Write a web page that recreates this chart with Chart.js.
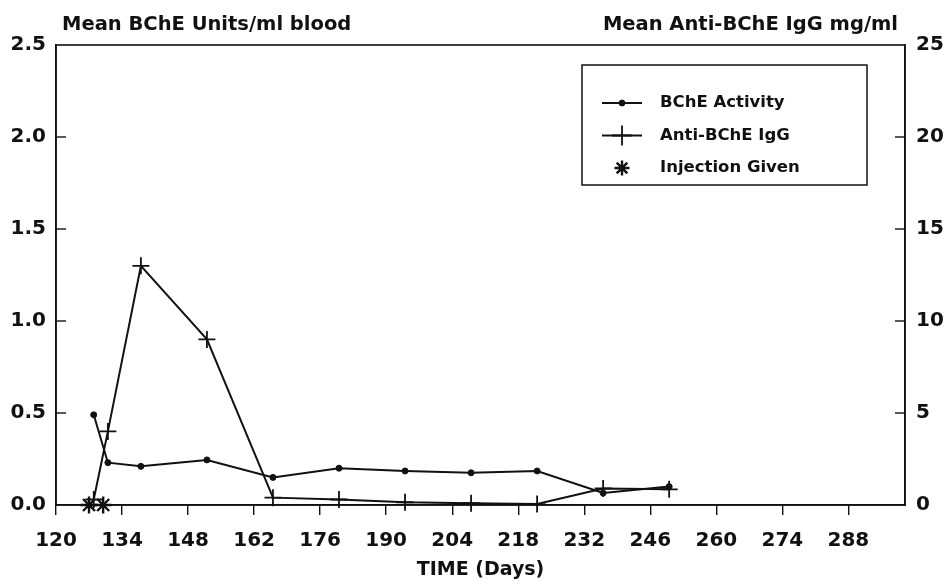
<!DOCTYPE html>
<html>
<head>
<meta charset="utf-8">
<script src="https://cdn.jsdelivr.net/npm/chart.js@4.4.1/dist/chart.umd.min.js"></script>
<style>
  html, body { margin: 0; padding: 0; background: #fff; }
  #wrap { width: 948px; height: 585px; position: relative; }
</style>
</head>
<body>
<div id="wrap"><canvas id="chart"></canvas></div>
<script>
// values
const xTicks   = [120, 134, 148, 162, 176, 190, 204, 218, 232, 246, 260, 274, 288];
const bcheDays = [128, 131, 138, 152, 166, 180, 194, 208, 222, 236, 250];
const bcheVals = [0.49, 0.23, 0.21, 0.245, 0.15, 0.20, 0.185, 0.175, 0.185, 0.065, 0.10];
const iggDays  = [128, 131, 138, 152, 166, 180, 194, 208, 222, 236, 250];
const iggVals  = [0.3, 4.0, 13.0, 9.0, 0.4, 0.3, 0.15, 0.1, 0.05, 0.9, 0.85];
const injDays  = [127, 130];
const injVals  = [0, 0];

const leftTitle  = 'Mean BChE Units/ml blood';
const rightTitle = 'Mean Anti-BChE IgG mg/ml';
const xTitle     = 'TIME (Days)';

const INK = '#111';
Chart.defaults.font.family = "'DejaVu Sans', 'Liberation Sans', sans-serif";
Chart.defaults.font.weight = 'bold';
Chart.defaults.color = INK;

const pts = (xs, ys) => xs.map((x, i) => ({ x: x, y: ys[i] }));

// frame, inward y ticks, axis titles and the boxed legend
const decor = {
  id: 'decor',
  afterDraw(chart) {
    const ctx = chart.ctx;
    const a = chart.chartArea;
    ctx.save();
    ctx.strokeStyle = INK;
    ctx.lineWidth = 1.6;
    ctx.strokeRect(a.left, a.top, a.right - a.left, a.bottom - a.top);

    // inward tick marks on both value axes
    ctx.lineWidth = 1.4;
    const yl = chart.scales.y, yr = chart.scales.y2;
    yl.ticks.forEach(t => {
      if (t.value <= 0 || t.value >= yl.max) return;
      const py = yl.getPixelForValue(t.value);
      ctx.beginPath(); ctx.moveTo(a.left, py); ctx.lineTo(a.left + 10, py); ctx.stroke();
    });
    yr.ticks.forEach(t => {
      if (t.value <= 0 || t.value >= yr.max) return;
      const py = yr.getPixelForValue(t.value);
      ctx.beginPath(); ctx.moveTo(a.right, py); ctx.lineTo(a.right - 10, py); ctx.stroke();
    });

    // axis titles
    ctx.fillStyle = INK;
    ctx.font = "bold 19.5px 'DejaVu Sans', sans-serif";
    ctx.textBaseline = 'alphabetic';
    ctx.textAlign = 'left';
    ctx.fillText(leftTitle, 62, 30);
    ctx.textAlign = 'right';
    ctx.fillText(rightTitle, 898, 30);

    // legend box
    const lx = 582, ly = 65, lw = 285, lh = 120;
    ctx.lineWidth = 1.5;
    ctx.strokeRect(lx, ly, lw, lh);
    ctx.font = "bold 16.5px 'DejaVu Sans', sans-serif";
    ctx.textAlign = 'left';
    ctx.textBaseline = 'middle';
    chart.data.datasets.forEach((ds, i) => {
      const ry = ly + 38 + i * 32.5;
      ctx.strokeStyle = INK;
      ctx.fillStyle = INK;
      if (ds.showLine !== false) {
        ctx.lineWidth = 1.8;
        ctx.beginPath(); ctx.moveTo(lx + 20, ry); ctx.lineTo(lx + 60, ry); ctx.stroke();
      }
      ctx.lineWidth = ds.pointBorderWidth || 1.5;
      Chart.helpers.drawPoint(ctx, {
        pointStyle: ds.pointStyle,
        rotation: 0,
        radius: ds.legendRadius,
        borderWidth: ds.pointBorderWidth || 1.5
      }, lx + 40, ry);
      ctx.fillStyle = INK;
      ctx.fillText(ds.label, lx + 78, ry);
    });
    ctx.restore();
  }
};

new Chart(document.getElementById('chart'), {
  type: 'line',
  data: {
    datasets: [
      {
        label: 'BChE Activity',
        data: pts(bcheDays, bcheVals),
        yAxisID: 'y',
        borderColor: INK, backgroundColor: INK,
        borderWidth: 2, pointStyle: 'circle', pointRadius: 3,
        legendRadius: 3, pointBorderWidth: 1,
        tension: 0, clip: false
      },
      {
        label: 'Anti-BChE IgG',
        data: pts(iggDays, iggVals),
        yAxisID: 'y2',
        borderColor: INK, backgroundColor: INK,
        borderWidth: 2, pointStyle: 'cross', pointRadius: 8.5,
        pointBorderWidth: 1.8, legendRadius: 10,
        tension: 0, clip: false
      },
      {
        label: 'Injection Given',
        data: pts(injDays, injVals),
        yAxisID: 'y',
        showLine: false,
        borderColor: INK, backgroundColor: INK,
        borderWidth: 2.4, pointStyle: 'star', pointRadius: 8.5,
        pointBorderWidth: 2.4, legendRadius: 7.5,
        clip: false
      }
    ]
  },
  options: {
    responsive: true,
    maintainAspectRatio: false,
    animation: false,
    layout: { padding: { top: 45, left: 0, right: 0, bottom: 0 } },
    plugins: { legend: { display: false }, tooltip: { enabled: false } },
    scales: {
      x: {
        type: 'linear',
        min: 120, max: 300,
        afterBuildTicks: s => { s.ticks = xTicks.map(v => ({ value: v })); },
        afterFit: s => { s.height = 80; },
        ticks: { font: { size: 20 }, padding: 14, maxRotation: 0, autoSkip: false,
                 callback: v => String(v) },
        grid: { drawOnChartArea: false, drawTicks: true, tickLength: 10,
                color: INK, lineWidth: 1.4 },
        border: { display: true, color: INK, width: 1.6 },
        title: { display: true, text: xTitle, font: { size: 19 }, padding: { top: 0 } }
      },
      y: {
        position: 'left',
        min: 0, max: 2.5,
        ticks: { stepSize: 0.5, font: { size: 20 }, padding: 10,
                 callback: v => v.toFixed(1) },
        grid: { display: false, drawTicks: false },
        border: { display: true, color: INK, width: 1.6 },
        afterFit: s => { s.width = 56; }
      },
      y2: {
        position: 'right',
        min: 0, max: 25,
        ticks: { stepSize: 5, font: { size: 20 }, padding: 11 },
        grid: { display: false, drawTicks: false },
        border: { display: true, color: INK, width: 1.6 },
        afterFit: s => { s.width = 43; }
      }
    }
  },
  plugins: [decor]
});
</script>
</body>
</html>
